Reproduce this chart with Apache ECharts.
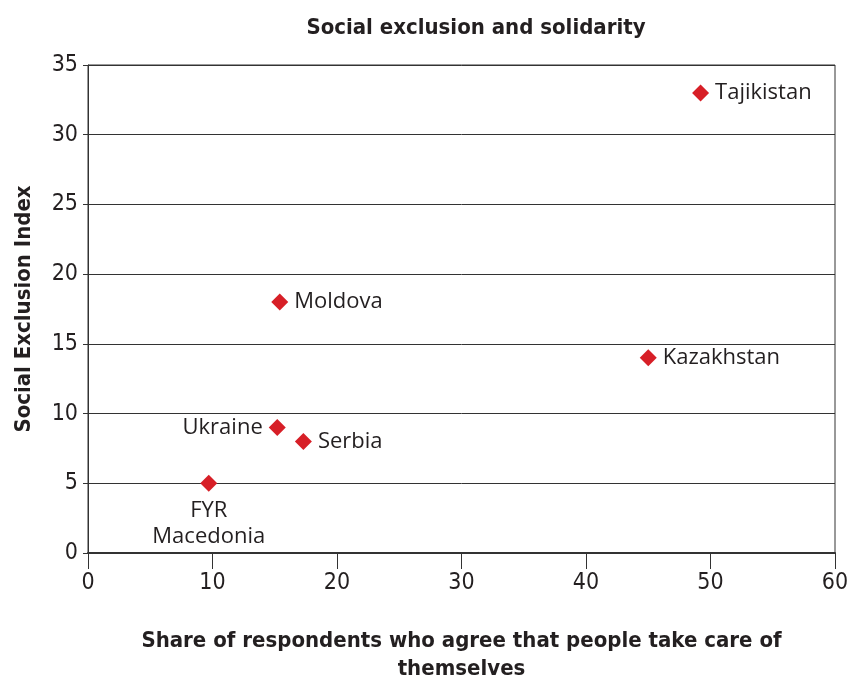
<!DOCTYPE html>
<html><head><meta charset="utf-8">
<script src="https://cdn.jsdelivr.net/npm/echarts@6/dist/echarts.min.js"></script>
<style>html,body{margin:0;padding:0;background:#fff}#c{width:849px;height:682px}</style>
</head><body><div id="c"></div>
<script>
const countries = ['Tajikistan','Moldova','Kazakhstan','Ukraine','Serbia','FYR\nMacedonia'];
const shareTakeCare = [49.2, 15.4, 45.0, 15.2, 17.3, 9.7];
const exclusionIndex = [33, 18, 14, 9, 8, 5];
const labelPos = ['right','right','right','left','right','bottom'];
const xTicks = [0,10,20,30,40,50,60];
const yTicks = [0,5,10,15,20,25,30,35];

const COND = '"DejaVu Sans Condensed", "Roboto Condensed", Roboto, sans-serif';
const chart = echarts.init(document.getElementById('c'));
const data = countries.map((n,i)=>({
  name:n, value:[shareTakeCare[i], exclusionIndex[i]],
  label:{position:labelPos[i], distance:6}
}));
chart.setOption({
  animation:false,
  title:{text:'Social exclusion and solidarity', left:471, top:12, textAlign:'center',
    textStyle:{fontFamily:COND, fontWeight:'bold', fontSize:22, color:'#231f20'}},
  grid:{left:88, right:14, top:65, bottom:129, show:true, borderColor:'#333', borderWidth:1,
    containLabel:false, outerBoundsMode:'none'},
  xAxis:{type:'value', min:0, max:60, interval:10,
    name:'Share of respondents who agree that people take care of\nthemselves',
    nameLocation:'middle', nameGap:74,
    nameTextStyle:{fontFamily:COND, fontWeight:'bold', fontSize:22, color:'#231f20', lineHeight:28},
    axisLine:{lineStyle:{color:'#333', width:2}},
    axisTick:{show:true, length:16, lineStyle:{color:'#333'}},
    axisLabel:{fontFamily:COND, fontSize:23, color:'#231f20', margin:19},
    splitLine:{show:false}},
  yAxis:{type:'value', min:0, max:35, interval:5,
    name:'Social Exclusion Index', nameLocation:'middle', nameGap:53,
    nameTextStyle:{fontFamily:COND, fontWeight:'bold', fontSize:22, color:'#231f20'},
    axisLine:{show:true, lineStyle:{color:'#333', width:1}},
    axisTick:{show:true, length:5, lineStyle:{color:'#333'}},
    axisLabel:{fontFamily:COND, fontSize:23, color:'#231f20', margin:10},
    splitLine:{show:true, lineStyle:{color:'#333', width:1}}},
  series:[{type:'scatter', symbol:'diamond', symbolSize:17,
    itemStyle:{color:'#d71f27', opacity:1},
    label:{show:true, formatter:p=>p.name, fontFamily:'"Open Sans", "Noto Sans", sans-serif', fontSize:22, color:'#231f20', lineHeight:26},
    data:data}]
});
</script></body></html>
